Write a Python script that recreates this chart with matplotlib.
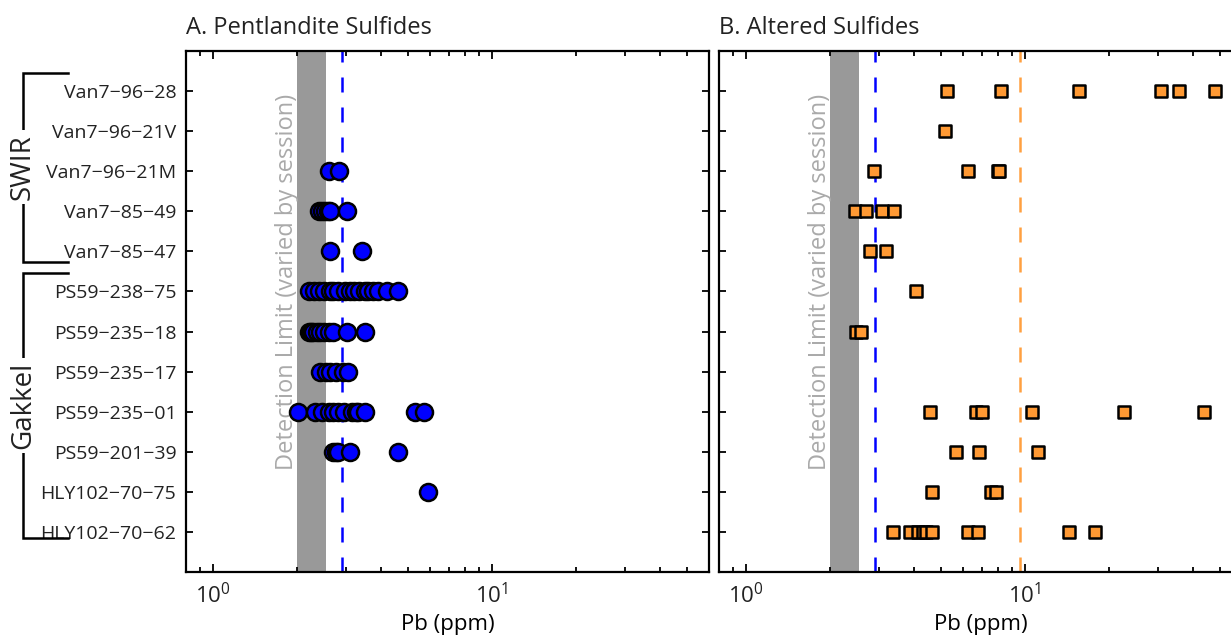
import matplotlib.pyplot as plt
import numpy as np

# --- --- DATA --- ---

samples = [
    "Van7−96−28", "Van7−96−21V", "Van7−96−21M", "Van7−85−49", "Van7−85−47",
    "PS59−238−75", "PS59−235−18", "PS59−235−17", "PS59−235−01", "PS59−201−39",
    "HLY102−70−75", "HLY102−70−62",
]

# Pb (ppm) in pentlandite, one list per sample
pent_pb = [
    [],
    [],
    [2.61, 2.82],
    [2.40, 2.46, 2.52, 2.58, 2.63, 3.01],
    [2.62, 3.41],
    [2.20, 2.30, 2.40, 2.50, 2.63, 2.70, 2.80, 2.97, 3.10, 3.20, 3.35,
     3.50, 3.60, 3.75, 3.91, 4.20, 4.62],
    [2.20, 2.25, 2.29, 2.35, 2.42, 2.50, 2.60, 2.70, 3.01, 3.50],
    [2.42, 2.55, 2.63, 2.75, 2.92, 3.05],
    [2.02, 2.32, 2.45, 2.61, 2.70, 2.81, 2.95, 3.14, 3.25, 3.32, 3.50,
     5.30, 5.70],
    [2.70, 2.75, 2.81, 3.10, 4.62],
    [5.91],
    [],
]

# Pb (ppm) in altered sulfides
alt_pb = [
    [5.27, 8.22, 15.6, 30.7, 35.7, 48.0],
    [5.17],
    [2.88, 6.25, 8.00, 8.10],
    [2.46, 2.69, 3.07, 3.38],
    [2.78, 3.18],
    [4.07],
    [2.47, 2.58],
    [],
    [4.57, 6.66, 7.00, 10.6, 22.7, 43.9],
    [5.64, 6.84, 11.1],
    [4.65, 7.54, 7.85],
    [3.37, 3.86, 4.15, 4.30, 4.43, 4.65, 6.23, 6.77, 14.4, 17.8],
]

det_lo, det_hi = 2.0, 2.54   # detection limit range
pent_ref = 2.9               # blue dashed line
alt_ref = 9.6                # orange dashed line

groups = [("SWIR", 0.55, 5.26), ("Gakkel", 5.54, 12.15)]

# --- --- PLOT --- ---

plt.rcParams["font.family"] = ["Open Sans", "DejaVu Sans"]
plt.rcParams["mathtext.fontset"] = "custom"
plt.rcParams["mathtext.rm"] = "Open Sans"
plt.rcParams["text.color"] = "#222222"
plt.rcParams["xtick.color"] = "black"
plt.rcParams["ytick.color"] = "black"
plt.rcParams["xtick.labelcolor"] = "#222222"
plt.rcParams["ytick.labelcolor"] = "#222222"

fig = plt.figure(figsize=(12.31, 6.41), dpi=100)
ax1 = fig.add_axes([0.1511, 0.1076, 0.4249, 0.8128])
ax2 = fig.add_axes([0.5841, 0.1076, 0.4249, 0.8128])

ypos = np.arange(1, len(samples) + 1)


def style_axis(ax, title):
    ax.set_xscale("log")
    ax.set_xlim(0.8, 60)
    ax.set_ylim(13, 0)
    ax.set_yticks(ypos)
    ax.tick_params(axis="both", which="both", direction="in",
                   top=True, right=True, width=1.3)
    ax.tick_params(axis="x", which="major", length=6, labelsize=16, pad=8)
    ax.tick_params(axis="x", which="minor", length=3.5)
    ax.tick_params(axis="y", which="major", length=5, labelsize=14, pad=7)
    for s in ax.spines.values():
        s.set_linewidth(1.6)
    ax.set_xlabel("Pb (ppm)", fontsize=16, labelpad=4)
    ax.set_title(title, loc="left", fontsize=17, pad=12)
    ax.axvspan(det_lo, det_hi, color="#999999", lw=0, zorder=1)
    ax.text(1.84, 5.75, "Detection Limit (varied by session)", rotation=90,
            ha="center", va="center", fontsize=17, color="#aaaaaa", zorder=2)
    ax.axvline(pent_ref, color="blue", lw=1.8, dashes=(6, 6), zorder=2)


style_axis(ax1, "A. Pentlandite Sulfides")
style_axis(ax2, "B. Altered Sulfides")
ax1.set_yticklabels(samples)
ax2.set_yticklabels([])
ax2.axvline(alt_ref, color="#ffa040", lw=1.8, dashes=(6, 6), zorder=2)

for y, vals in zip(ypos, pent_pb):
    ax1.scatter(vals, [y] * len(vals), s=150, marker="o", c="#0000ff",
                edgecolors="black", linewidths=1.8, zorder=3)

for y, vals in zip(ypos, alt_pb):
    ax2.scatter(vals, [y] * len(vals), s=85, marker="s", c="#ff9933",
                edgecolors="black", linewidths=1.8, zorder=3)

# group brackets on the left
tr = ax1.get_yaxis_transform()
x_in, x_out = -0.2256, -0.3117
for name, y0, y1 in groups:
    ax1.plot([x_in, x_out, x_out, x_in], [y0, y0, y1, y1], color="black",
             lw=1.8, transform=tr, clip_on=False, solid_joinstyle="miter")
    ax1.text(x_out, (y0 + y1) / 2, name, rotation=90, ha="center",
             va="center", fontsize=20, transform=tr,
             bbox=dict(fc="white", ec="none", pad=3))

fig.savefig("out.png", dpi=100)
